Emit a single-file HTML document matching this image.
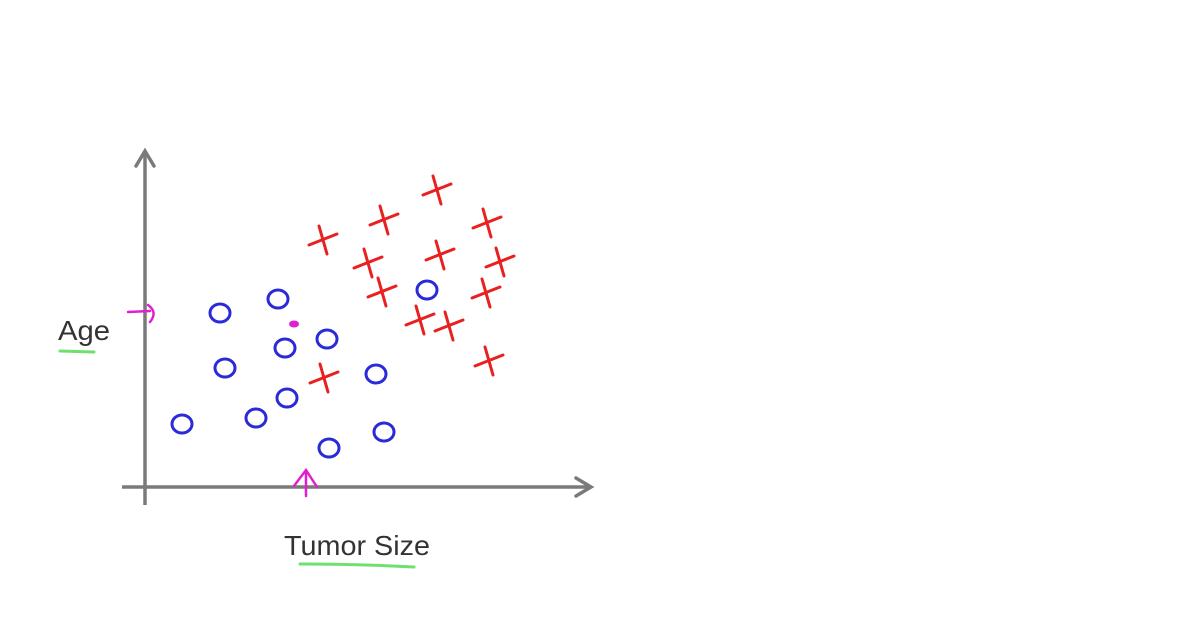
<!DOCTYPE html>
<html><head><meta charset="utf-8"><style>
html,body{margin:0;padding:0;background:#fff;width:1190px;height:624px;overflow:hidden}
svg{display:block}
text{font-family:"Liberation Sans",sans-serif}
</style></head><body>
<svg id="chart" width="1190" height="624" viewBox="0 0 1190 624">
<g id="axes">
  <line x1="145" y1="505" x2="145" y2="152" stroke="#7a7a7a" stroke-width="3.5"/>
  <polyline points="136,166 145,151 154,166" fill="none" stroke="#7a7a7a" stroke-width="3.5" stroke-linecap="round"/>
  <line x1="122" y1="487" x2="590" y2="487" stroke="#7a7a7a" stroke-width="3.5"/>
  <polyline points="576,478 591,487 576,496" fill="none" stroke="#7a7a7a" stroke-width="3.5" stroke-linecap="round"/>
</g>
<text x="58" y="340" font-size="28" fill="#333" textLength="52" lengthAdjust="spacingAndGlyphs">Age</text>
<line x1="60" y1="351" x2="94" y2="352" stroke="#6ee06e" stroke-width="3" stroke-linecap="round"/>
<text x="284" y="555" font-size="28" fill="#333" textLength="146" lengthAdjust="spacingAndGlyphs">Tumor Size</text>
<path d="M300 564 Q360 564 414 567" stroke="#6ee06e" stroke-width="3" fill="none" stroke-linecap="round"/>
<g stroke="#e020d0" stroke-width="2.5" fill="none" stroke-linecap="round">
  <path d="M128 312 L150 311 M148 305 Q158 312 150 322"/>
  <path d="M306 496 L306 470 M294 486 L306 470 L317 487"/>
  <ellipse cx="294" cy="324" rx="5" ry="3.5" fill="#e020d0" stroke="none"/>
</g>
<g id="marks"></g>
</svg>
<script>
const benignX = [75, 133, 182, 140, 80, 231, 142, 111, 37, 184, 239, 282];
const benignY = [174, 188, 148, 139, 119, 113, 89, 69, 63, 39, 55, 197];
const malignantX = [178, 239, 292, 342, 223, 295, 355, 237, 341, 275, 304, 344, 179];
const malignantY = [247, 267, 297, 264, 224, 232, 225, 195, 194, 167, 161, 126, 109];
const ox = 145, oy = 487;
function sx(v){return ox + v;}
function sy(v){return oy - v;}
const g = document.getElementById('marks');
const NS = 'http://www.w3.org/2000/svg';
benignX.forEach((x,i)=>{
  const e = document.createElementNS(NS,'ellipse');
  e.setAttribute('cx', sx(x));
  e.setAttribute('cy', sy(benignY[i]));
  e.setAttribute('rx', 10);
  e.setAttribute('ry', 9);
  e.setAttribute('fill','none');
  e.setAttribute('stroke','#2a2ad8');
  e.setAttribute('stroke-width','3');
  
  
  g.appendChild(e);
});
malignantX.forEach((x,i)=>{
  const cx = sx(x), cy = sy(malignantY[i]);
  const p = document.createElementNS(NS,'path');
  p.setAttribute('d', `M${cx-14} ${cy+5} L${cx+14} ${cy-6} M${cx-4} ${cy-14} L${cx+4} ${cy+14}`);
  p.setAttribute('stroke','#e82020');
  p.setAttribute('stroke-width','3');
  p.setAttribute('fill','none');
  p.setAttribute('stroke-linecap','round');
  
  
  g.appendChild(p);
});
</script>
</body></html>
